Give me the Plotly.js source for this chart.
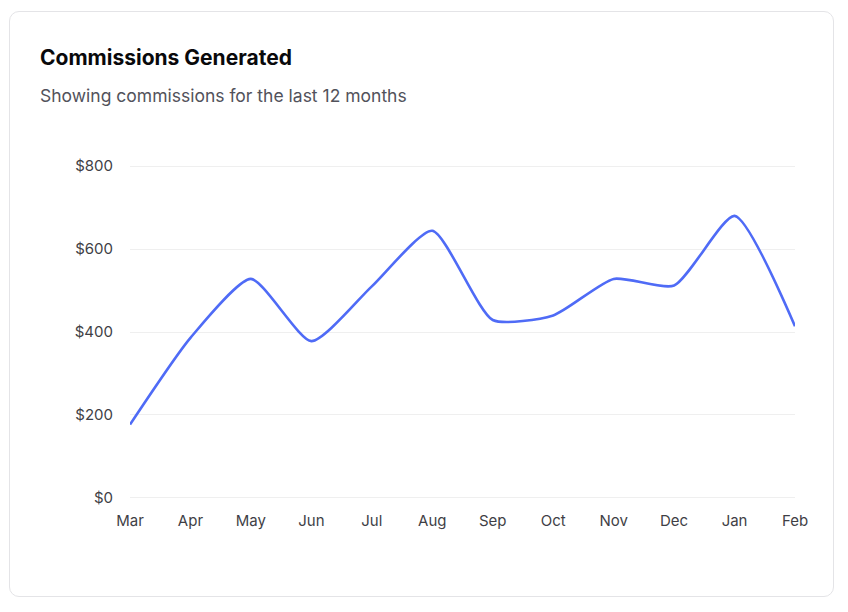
<!DOCTYPE html>
<html>
<head>
<meta charset="utf-8">
<script src="https://cdn.plot.ly/plotly-3.0.1.min.js"></script>
<style>
  html, body { margin:0; padding:0; background:#ffffff; }
  #card { position:absolute; left:9px; top:11px; width:825px; height:586px; border:1px solid #e4e4e7; border-radius:10px; box-sizing:border-box; background:#fff; }
  #chart { position:absolute; left:0; top:0; width:848px; height:612px; }
</style>
</head>
<body>
<div id="card"></div>
<div id="chart"></div>
<script>
const months = ["Mar","Apr","May","Jun","Jul","Aug","Sep","Oct","Nov","Dec","Jan","Feb"];
const commissions = [177, 386, 528, 378, 510, 644, 429, 440, 528, 512, 680, 414];
const yTicks = [0, 200, 400, 600, 800];
const yTickLabels = ["$0", "$200", "$400", "$600", "$800"];

const trace = {
  x: months,
  y: commissions,
  type: "scatter",
  mode: "lines",
  line: { color: "#4f6bf6", width: 2.6, shape: "spline", smoothing: 0.6 },
  hoverinfo: "skip"
};

const layout = {
  width: 848, height: 612,
  paper_bgcolor: "rgba(0,0,0,0)",
  plot_bgcolor: "rgba(0,0,0,0)",
  margin: { l: 130, r: 53, t: 164, b: 112 },
  font: { family: "Inter, 'Noto Sans', sans-serif", color: "#3f3f46", size: 15 },
  showlegend: false,
  xaxis: {
    type: "category",
    range: [0, 11],
    showgrid: false,
    zeroline: false,
    showline: false,
    ticks: "outside", ticklen: 7, tickcolor: "rgba(0,0,0,0)",
    tickfont: { size: 15, color: "#3f3f46" },
    fixedrange: true
  },
  yaxis: {
    range: [-5, 805],
    tickvals: yTicks,
    ticktext: yTickLabels,
    showgrid: true,
    gridcolor: "#efefef",
    gridwidth: 1,
    zeroline: false,
    showline: false,
    ticks: "outside", ticklen: 13, tickcolor: "rgba(0,0,0,0)",
    tickfont: { size: 15, color: "#3f3f46" },
    fixedrange: true
  },
  annotations: [
    { text: "<b>Commissions Generated</b>", xref: "paper", yref: "paper", x: 0, y: 1.0, xanchor: "left", yanchor: "middle",
      showarrow: false, font: { size: 21, color: "#09090b", family: "Inter, sans-serif" } },
    { text: "Showing commissions for the last 12 months", xref: "paper", yref: "paper", x: 0, y: 1.0, xanchor: "left", yanchor: "middle",
      showarrow: false, font: { size: 17.5, color: "#52525b", family: "Inter, sans-serif" } }
  ]
};

const plotH = 612 - 164 - 112;
const plotW = 848 - 130 - 53;
function py(pix) { return (612 - 112 - pix) / plotH; }
function px(pix) { return (pix - 130) / plotW; }
layout.annotations[0].x = px(38); layout.annotations[0].y = py(57);
layout.annotations[1].x = px(38); layout.annotations[1].y = py(95);

Plotly.newPlot("chart", [trace], layout, { displayModeBar: false, staticPlot: true });
</script>
</body>
</html>
